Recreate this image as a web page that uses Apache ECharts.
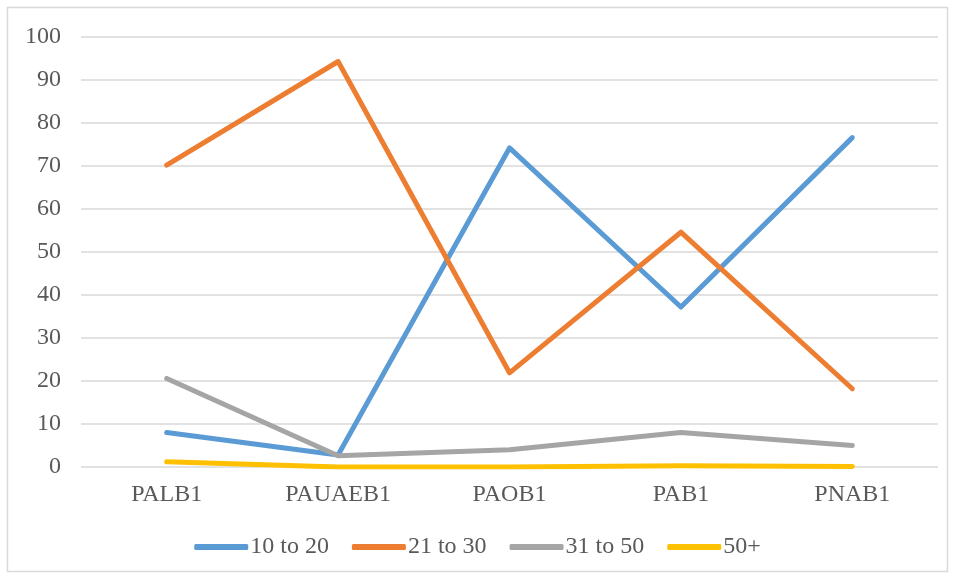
<!DOCTYPE html>
<html><head><meta charset="utf-8">
<script src="https://cdn.jsdelivr.net/npm/echarts@6/dist/echarts.min.js"></script>
<style>html,body{margin:0;padding:0;background:#fff}#c{width:955px;height:579px}</style>
</head><body><div id="c"></div>
<script>
const categories = ['PALB1','PAUAEB1','PAOB1','PAB1','PNAB1'];
const s10to20 = [8, 2.8, 74.2, 37.2, 76.6];
const s21to30 = [70.2, 94.3, 21.9, 54.6, 18.2];
const s31to50 = [20.6, 2.6, 4, 8, 5];
const s50plus = [1.2, 0, 0, 0.3, 0.1];
const yTicks = {min: 0, max: 100, interval: 10};
const seriesNames = ['10 to 20','21 to 30','31 to 50','50+'];
const colors = ['#5B9BD5','#ED7D31','#A5A5A5','#FFC000'];
const font = '"Liberation Serif","Times New Roman",serif';
const chart = echarts.init(document.getElementById('c'));
const mk = (name, data, color) => ({
  name, type: 'line', data, symbol: 'none', smooth: false,
  lineStyle: {width: 5, color, cap: 'round', join: 'round'},
  itemStyle: {color}
});
chart.setOption({
  animation: false,
  textStyle: {fontFamily: font},
  graphic: [{type: 'rect', shape: {x: 7.5, y: 7.5, width: 940, height: 564},
    style: {fill: 'none', stroke: '#D9D9D9', lineWidth: 1.5}, silent: true}],
  grid: {left: 81, right: 17, top: 37, bottom: 112},
  xAxis: {type: 'category', data: categories, boundaryGap: true,
    axisLine: {show: false}, axisTick: {show: false},
    axisLabel: {color: '#595959', fontSize: 24, fontFamily: font, margin: 16}},
  yAxis: {type: 'value', min: yTicks.min, max: yTicks.max, interval: yTicks.interval,
    axisLine: {show: false}, axisTick: {show: false},
    splitLine: {lineStyle: {color: '#D9D9D9', width: 1.5}},
    axisLabel: {color: '#595959', fontSize: 24, fontFamily: font, margin: 20}},
  legend: {bottom: 15, left: 'center', itemWidth: 54, itemHeight: 6, itemGap: 23,
    icon: 'roundRect',
    data: seriesNames.map((n,i)=>({name:n, itemStyle:{color:colors[i]}})),
    textStyle: {color: '#595959', fontSize: 24, fontFamily: font, padding: [0,0,0,-3]}},
  series: [
    mk(seriesNames[0], s10to20, colors[0]),
    mk(seriesNames[1], s21to30, colors[1]),
    mk(seriesNames[2], s31to50, colors[2]),
    mk(seriesNames[3], s50plus, colors[3])
  ]
});
</script></body></html>
